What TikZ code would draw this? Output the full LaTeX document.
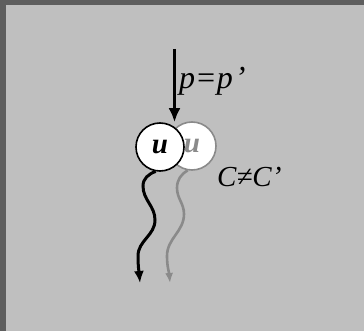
\documentclass[tikz,border=0pt]{standalone}
\usepackage{fontspec}
\setmainfont{Liberation Serif}
\usetikzlibrary{arrows.meta,positioning}
\definecolor{frame}{HTML}{5E5E5E}
\definecolor{panel}{HTML}{BFBFBF}
\definecolor{ghost}{HTML}{8A8A8A}
\tikzset{
  ball/.style={circle,minimum size=48pt,inner sep=0pt,fill=white,line width=1.6pt,
    font=\fontsize{29}{30}\selectfont\bfseries\itshape},
  wave/.style={line width=3pt,-{Latex[length=12pt,width=10pt]}},
  lbl/.style={font=\fontsize{29}{31}\selectfont\itshape,inner sep=0pt}
}
\begin{document}
\begin{tikzpicture}[x=1pt,y=-1pt]
\fill[frame] (0,0) rectangle (364,331);
\fill[panel] (6,5) rectangle (364,331);
\useasboundingbox (0,0) rectangle (364,331);
% the two particles
\node[ball,draw=ghost,text=ghost] (ugr) at (192,146) {u};
\node[ball,draw=black] (ubl) at (160,147) {u};
% incoming momentum
\coordinate (src) at (174.5,49);
\draw[line width=3.5pt,-{Latex[length=14pt,width=12pt]}] (src) -- (src |- ubl.north);
\node[lbl,font=\fontsize{32}{34}\selectfont\itshape,anchor=base west] (peq) at (179,89) {p=p\kern2pt’};
\node[lbl,anchor=base west] (cneq) at (217,187) {C≠C’};
% outgoing paths
\coordinate (bend) at (140,283);
\coordinate (gend) at (170,283);
\draw[wave,ghost,line width=2.6pt,-{Latex[length=10pt,width=8pt]}] (ugr.-100)
  to[out=210,in=90] (177,188) to[out=270,in=90] (184,214)
  to[out=270,in=90] (167,256) to[out=270,in=95] (gend);
\draw[wave] (ubl.-100)
  to[out=200,in=90] (143,186) to[out=270,in=90] (155,220)
  to[out=270,in=90] (138,256) to[out=270,in=95] (bend);
\end{tikzpicture}
\end{document}
